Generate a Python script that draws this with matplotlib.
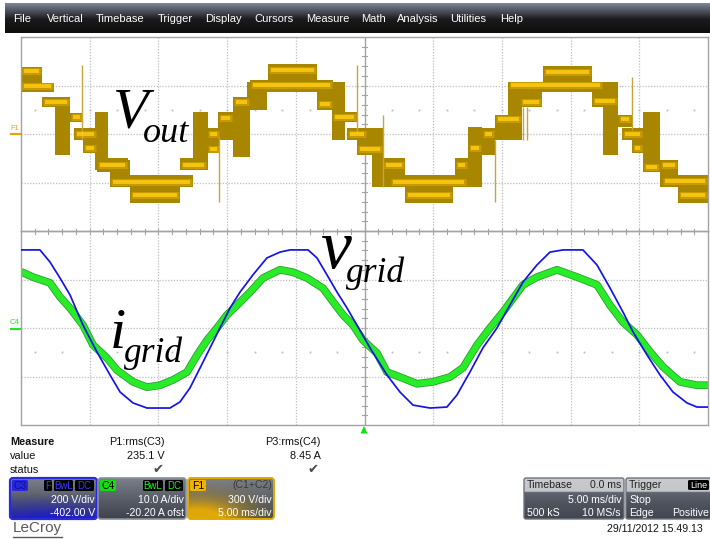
import numpy as np
import matplotlib
matplotlib.use("Agg")
import matplotlib.pyplot as plt
from matplotlib.patches import FancyBboxPatch, Polygon
import matplotlib.patheffects as pe

W, H = 710, 539

# ---- acquisition settings -------------------------------------------------
ms_per_div = 5.0
f1_v_per_div = 300.0
c3_v_per_div = 200.0
c4_a_per_div = 10.0

# ---- C3: grid voltage (ms, V) --------------------------------------------
t_vgrid = [0, 1.38, 2.11, 2.84, 3.57, 4.51, 5.53, 6.48, 7.21, 8.15,
           9.17, 10.84, 11.57, 12.30, 13.03, 13.76, 14.48, 15.21, 15.94, 16.88,
           17.90, 18.85, 19.58, 20.89, 21.54, 22.27, 23.0, 23.73, 24.45, 25.40,
           26.64, 27.58, 28.53, 29.77, 31.0, 31.73, 32.68, 33.62, 34.64, 35.59,
           36.54, 37.55, 38.5, 39.45, 40.9, 41.92, 42.87, 43.81, 44.54, 45.56,
           46.51, 47.45, 48.47, 49.2, 50]
v_grid = [322, 322, 272, 206, 136, 12, -99, -194, -264, -309,
          -330, -330, -305, -247, -165, -82, 0, 82, 148, 219,
          289, 313, 322, 322, 289, 219, 148, 82, 12, -82,
          -194, -264, -318, -330, -326, -276, -181, -82, 0, 95,
          190, 260, 313, 322, 322, 260, 165, 66, -16, -111,
          -194, -264, -309, -326, -326]

# ---- C4: grid current (ms, A) --------------------------------------------
t_igrid = [0, 0.87, 2.11, 2.84, 3.57, 4.51, 5.24, 6.26, 6.99, 8.15,
           9.17, 10.12, 11.06, 12.08, 12.81, 13.54, 14.26, 14.99, 15.72, 16.67,
           17.61, 18.85, 19.80, 20.82, 21.98, 22.71, 23.44, 24.16, 24.89, 25.91,
           26.64, 27.58, 28.82, 29.99, 31.22, 32.17, 33.19, 34.13, 35.08, 36.54,
           37.55, 39.01, 40.47, 41.92, 42.87, 43.81, 44.83, 45.78, 46.72, 47.96,
           49.2, 50]
i_grid = [11.6, 10.5, 9.3, 6.4, 4.1, 0.6, -3.5, -6.2, -8.7, -11.1,
          -12.2, -11.8, -10.7, -9.1, -5.6, -2.5, 0, 2.7, 4.7, 7.4,
          10.3, 12.0, 11.5, 10.3, 8.2, 5.4, 2.7, 0.6, -2.5, -5.2,
          -9.1, -10.1, -11.5, -11.1, -10.1, -8.2, -3.5, 0, 3.3, 8.9,
          10.5, 12.0, 10.5, 8.9, 4.7, 1.2, -1.4, -4.9, -8.0, -11.1,
          -11.8, -11.8]

# ---- F1 = C1+C2: multilevel output, PWM bands between levels (ms, V) -----
band_t0 = [0, 0, 1.53, 2.47, 3.57, 3.85, 4.51, 5.39, 5.53, 6.48,
           6.48, 7.93, 11.57, 12.52, 13.54, 14.34, 15.43, 16.45, 17.98, 16.67,
           21.54, 22.63, 22.63, 23.73, 24.45, 25.55, 26.35, 26.86, 27.95, 31.59,
           32.53, 33.55, 34.5, 35.44, 35.44, 36.32, 37.99, 41.56, 42.36, 43.45,
           43.74, 44.47, 45.27, 46.51, 46.65, 47.82]
band_t1 = [1.53, 2.4, 3.57, 3.57, 4.51, 5.53, 5.53, 6.33, 7.79, 7.93,
           12.52, 11.57, 13.54, 13.61, 14.48, 15.43, 16.67, 17.9, 21.54, 22.71,
           22.71, 23.58, 24.45, 25.18, 26.35, 26.35, 27.95, 32.46, 31.44, 32.53,
           33.55, 34.5, 36.46, 36.46, 42.36, 37.92, 41.56, 43.45, 43.45, 44.47,
           45.27, 45.27, 46.51, 47.82, 50, 50]
band_lo = [260, 260, 167, -130, 74, -37, -118, -223, -235, -328,
           -328, -427, -223, -223, -118, -37, -142, 148, 260, 260,
           148, -37, 74, -37, -130, -328, -328, -328, -427, -328,
           -328, -130, -37, -37, 260, 167, 260, 167, -130, 43,
           -37, -118, -235, -328, -328, -427]
band_hi = [414, 315, 229, 229, 130, 37, 37, 136, -148, -161,
           -254, -254, -148, 136, 37, 136, 229, 322, 433, 334,
           315, 322, 136, 37, 37, 37, -148, -254, -254, -148,
           43, 37, 117, 322, 322, 322, 420, 322, 229, 117,
           37, 37, 136, -161, -254, -254]

# dominant switching level inside each band
lvl_t0 = [0, 0, 1.53, 3.57, 3.85, 4.51, 5.53, 6.48, 7.93, 11.57,
          13.54, 13.54, 14.34, 15.43, 16.67, 17.98, 21.54, 22.63, 23.73, 24.45,
          26.35, 26.86, 27.95, 31.59, 32.53, 33.55, 34.5, 35.44, 36.32, 37.99,
          41.56, 43.45, 43.74, 44.47, 45.27, 46.51, 46.65, 47.82]
lvl_t1 = [1.53, 2.4, 3.57, 4.51, 5.53, 5.53, 7.79, 12.52, 11.57, 13.54,
          14.48, 14.48, 15.43, 16.67, 22.71, 21.54, 22.71, 24.45, 25.18, 26.35,
          27.95, 32.46, 31.44, 32.53, 33.55, 34.5, 36.46, 42.36, 37.92, 41.56,
          43.45, 44.47, 45.27, 45.27, 46.51, 47.82, 50, 50]
lvl_v = [390, 300, 198, 105, 0, -87, -192, -297, -377, -192,
         -93, 0, 99, 198, 303, 396, 185, 105, 0, -93,
         -192, -297, -377, -192, -87, 0, 93, 303, 198, 384,
         204, 93, 0, -87, -204, -192, -290, -377]

# switching glitches
spike_t = [4.45, 14.41, 24.45, 26.35, 34.5, 36.55, 36.8, 44.5]
spike_lo = [-37, -421, 6, -328, -421, -37, -37, 25]
spike_hi = [427, -19, 427, 117, -37, 167, 167, 353]

menu_items = ["File", "Vertical", "Timebase", "Trigger", "Display", "Cursors",
              "Measure", "Math", "Analysis", "Utilities", "Help"]

# ---------------------------------------------------------------------------
fig = plt.figure(figsize=(W / 100, H / 100), dpi=100)
fig.patch.set_facecolor("white")

bg = fig.add_axes([0, 0, 1, 1], zorder=0)
bg.set_facecolor("white")


def px_axes(x0, y0, x1, y1, z):
    ax = fig.add_axes([x0 / W, 1 - y1 / H, (x1 - x0) / W, (y1 - y0) / H], zorder=z)
    return ax


GX0, GX1, GY0, GYM, GY1 = 21, 708, 37, 231, 425
ax_up = px_axes(GX0, GY0, GX1, GYM, 1)
ax_lo = px_axes(GX0, GYM, GX1, GY1, 1)
ax_v = ax_lo.twinx()

GRID_C = "#bdbdbd"
FRAME_C = "#a3a3a3"
n_div_x = 10
t_end = n_div_x * ms_per_div


def style_panel(ax, per_div):
    ax.set_xlim(0, t_end)
    ax.set_ylim(-2 * per_div, 2 * per_div)
    ax.patch.set_visible(False)
    ax.set_xticks([])
    ax.set_yticks([])
    for s in ax.spines.values():
        s.set_color(FRAME_C)
        s.set_linewidth(1.0)
    for k in range(1, n_div_x):
        if k == 5:
            ax.axvline(k * ms_per_div, color=FRAME_C, lw=1.0, zorder=0.5)
        else:
            ax.axvline(k * ms_per_div, color=GRID_C, lw=0.9, ls=(0, (1, 1.3)), zorder=0.5)
    for j in (-1, 0, 1):
        ax.axhline(j * per_div, color=GRID_C, lw=0.9, ls=(0, (1, 1.3)), zorder=0.5)


style_panel(ax_up, f1_v_per_div)
style_panel(ax_lo, c4_a_per_div)
ax_v.set_ylim(-2 * c3_v_per_div, 2 * c3_v_per_div)
ax_v.set_yticks([])
for s in ax_v.spines.values():
    s.set_visible(False)

# dotted marker rows
odd_ms = np.arange(1, t_end, 2)
ax_up.plot(odd_ms, np.full(odd_ms.shape, 0.5 * f1_v_per_div), ls="none",
           marker="s", ms=1.3, mfc=GRID_C, mec="none", zorder=0.5)
ax_lo.plot(odd_ms, np.full(odd_ms.shape, -0.5 * c4_a_per_div), ls="none",
           marker="s", ms=1.3, mfc=GRID_C, mec="none", zorder=0.5)

# ---- F1 trace ------------------------------------------------------------
t0 = np.array(band_t0); t1 = np.array(band_t1)
lo = np.array(band_lo); hi = np.array(band_hi)
ax_up.bar(t0, hi - lo, width=t1 - t0, bottom=lo, align="edge",
          color="#a88600", lw=0, zorder=2)
ax_up.vlines(spike_t, spike_lo, spike_hi, color="#c8a43c", lw=1.0, zorder=2)
ax_up.hlines(lvl_v, np.array(lvl_t0) + 0.1, np.array(lvl_t1) - 0.1,
             color="#ffc400", lw=5.0, alpha=0.35, zorder=3)
ax_up.hlines(lvl_v, np.array(lvl_t0) + 0.2, np.array(lvl_t1) - 0.2,
             color="#ffcc10", lw=2.8, alpha=0.85, zorder=3)

# ---- C4 and C3 traces ------------------------------------------------------
ax_lo.plot(t_igrid, i_grid, color="#28ec28", lw=4.4, solid_capstyle="butt",
           path_effects=[pe.Stroke(linewidth=5.6, foreground="#2f9e2f"), pe.Normal()],
           zorder=2)
ax_v.plot(t_vgrid, v_grid, color="#1414e6", lw=1.25, zorder=3)

# ---- background chrome ----------------------------------------------------


def vgrad(stops, n=80, m=1):
    pos = np.array([s[0] for s in stops])
    cols = np.array([s[1] for s in stops], float) / 255.0
    y = np.linspace(0, 1, n)
    img = np.stack([np.interp(y, pos, cols[:, c]) for c in range(3)], axis=-1)
    return np.repeat(img[:, None, :], m, axis=1)


def rbox(ax, x0, y0, x1, y1, r):
    return FancyBboxPatch((x0 + r, y0 + r), x1 - x0 - 2 * r, y1 - y0 - 2 * r,
                          boxstyle=f"round,pad={r}", transform=ax.transData)


def panel(ax, x0, y0, x1, y1, img, edge, lw=1.3, r=3, z=2):
    clip = rbox(ax, x0, y0, x1, y1, r)
    clip.set_facecolor("none"); clip.set_edgecolor("none")
    ax.add_patch(clip)
    im = ax.imshow(img, extent=(x0, x1, y1, y0), origin="upper", aspect="auto",
                   interpolation="bilinear", zorder=z)
    im.set_clip_path(clip)
    frame = rbox(ax, x0, y0, x1, y1, r)
    frame.set_facecolor("none"); frame.set_edgecolor(edge); frame.set_linewidth(lw)
    frame.set_zorder(z + 1)
    ax.add_patch(frame)


def tag(ax, x0, y0, x1, y1, fc, text, tc, fs=7.0, z=5):
    p = rbox(ax, x0, y0, x1, y1, 1.5)
    p.set_facecolor(fc); p.set_edgecolor("none"); p.set_zorder(z)
    ax.add_patch(p)
    ax.text((x0 + x1) / 2, (y0 + y1) / 2 + 0.5, text, color=tc, fontsize=fs,
            ha="center", va="center", family="Liberation Sans", zorder=z + 1)


SANS = "Liberation Sans"

# menu bar
bar = vgrad([(0, (128, 134, 150)), (0.3, (70, 74, 84)), (0.55, (26, 26, 28)), (1, (14, 14, 14))])
bg.imshow(bar, extent=(5, 710, 33, 3), origin="upper", aspect="auto", zorder=1)
menu_x = [13, 47, 96, 158, 205, 254, 306, 361, 397, 450, 500]
for name, x in zip(menu_items, menu_x):
    bg.text(x, 19, name, color="white", fontsize=8, family=SANS, va="center", zorder=2)

# center graticule ticks
for k in range(1, 50):
    x = GX0 + k * (GX1 - GX0) / 50
    bg.plot([x, x], [GYM - 2.5, GYM + 2.5], color=FRAME_C, lw=0.8, zorder=1)
for k in range(1, 40):
    y = GY0 + k * (GY1 - GY0) / 40
    bg.plot([361.5, 367.0], [y, y], color=FRAME_C, lw=0.8, zorder=1)

# measurement table
fs_m = 7.8
bg.text(10, 442, "Measure", fontsize=fs_m, family=SANS, weight="bold", va="center", color="#111")
bg.text(10, 456, "value", fontsize=fs_m, family=SANS, va="center", color="#111")
bg.text(10, 470, "status", fontsize=fs_m, family=SANS, va="center", color="#111")
bg.text(165, 442, "P1:rms(C3)", fontsize=fs_m, family=SANS, va="center", ha="right", color="#111")
bg.text(165, 456, "235.1 V", fontsize=fs_m, family=SANS, va="center", ha="right", color="#111")
bg.text(321, 442, "P3:rms(C4)", fontsize=fs_m, family=SANS, va="center", ha="right", color="#111")
bg.text(321, 456, "8.45 A", fontsize=fs_m, family=SANS, va="center", ha="right", color="#111")
for xc in (158, 313):
    bg.text(xc, 470, "\u2714", fontsize=9.5, family="DejaVu Sans", va="center", ha="center", color="#4a4a4a")

# channel descriptor boxes
BY0, BY1 = 478, 519
gray_stops = [(0, (122, 127, 138)), (0.45, (92, 97, 108)), (1, (62, 66, 76))]

n, m = 60, 90
yy, xx = np.mgrid[0:1:n * 1j, 0:1:m * 1j]
base = vgrad(gray_stops, n=n, m=m)

w_blue = np.clip((yy - 0.35) / 0.65, 0, 1) ** 1.3 * (1 - 0.45 * np.abs(xx - 0.45))
blue = np.array([25, 25, 215]) / 255.0
img_c3 = base * (1 - w_blue[..., None]) + blue * w_blue[..., None]
panel(bg, 10, BY0, 97, BY1, img_c3, "#2a2ad8", lw=1.6)

panel(bg, 98, BY0, 186, BY1, base, "#8a8f98", lw=1.2)

w_gold = np.exp(-(((xx - 0.12) / 0.55) ** 2 + ((yy - 1.05) / 0.55) ** 2))
w_gold = np.clip(w_gold * 1.3, 0, 1)
gold = np.array([222, 168, 10]) / 255.0
img_f1 = base * (1 - w_gold[..., None]) + gold * w_gold[..., None]
panel(bg, 188, BY0, 274, BY1, img_f1, "#e3a800", lw=1.4)

tag(bg, 12, 480, 28, 491, "#2626e0", "C3", "#12127a", fs=7.5)
tag(bg, 44, 480, 52, 491, "black", "F", "#3a3aff")
tag(bg, 54, 480, 73, 491, "black", "BwL", "#3a3aff")
tag(bg, 75, 480, 94, 491, "black", "DC", "#3a3aff")
tag(bg, 100, 480, 116, 491, "#10e010", "C4", "black", fs=7.5)
tag(bg, 143, 480, 163, 491, "black", "BwL", "#20f020")
tag(bg, 165, 480, 183, 491, "black", "DC", "#20f020")
tag(bg, 190, 480, 206, 491, "#f0b400", "F1", "black", fs=7.5)
bg.text(272, 485, "(C1+C2)", fontsize=7.6, family=SANS, ha="right", va="center", color="#3a3a3a", zorder=6)

fs_b = 7.6
for x, l1, l2 in [(95, "200 V/div", "-402.00 V"),
                  (184, "10.0 A/div", "-20.20 A ofst"),
                  (272, "300 V/div", "5.00 ms/div")]:
    bg.text(x, 500, l1, fontsize=fs_b, family=SANS, ha="right", va="center", color="white", zorder=6)
    bg.text(x, 512.5, l2, fontsize=fs_b, family=SANS, ha="right", va="center", color="white", zorder=6)

# timebase / trigger boxes
dark_stops = [(0, (200, 202, 206)), (0.33, (196, 198, 202)), (0.34, (96, 100, 110)),
              (0.6, (80, 84, 94)), (1, (66, 70, 80))]
tb = vgrad(dark_stops, n=82)
panel(bg, 524, BY0, 624, BY1, tb, "#70747c", lw=1.0, r=2)
panel(bg, 626, BY0, 712, BY1, tb, "#70747c", lw=1.0, r=2)
bg.text(527, 485, "Timebase", fontsize=fs_b, family=SANS, va="center", color="#222", zorder=6)
bg.text(621, 485, "0.0 ms", fontsize=fs_b, family=SANS, va="center", ha="right", color="#222", zorder=6)
bg.text(621, 500, "5.00 ms/div", fontsize=fs_b, family=SANS, va="center", ha="right", color="white", zorder=6)
bg.text(527, 512.5, "500 kS", fontsize=fs_b, family=SANS, va="center", color="white", zorder=6)
bg.text(621, 512.5, "10 MS/s", fontsize=fs_b, family=SANS, va="center", ha="right", color="white", zorder=6)
bg.text(629, 485, "Trigger", fontsize=fs_b, family=SANS, va="center", color="#222", zorder=6)
tag(bg, 688, 480, 709, 490, "black", "Line", "white", fs=6.5, z=6)
bg.text(629, 500, "Stop", fontsize=fs_b, family=SANS, va="center", color="white", zorder=6)
bg.text(629, 512.5, "Edge", fontsize=fs_b, family=SANS, va="center", color="white", zorder=6)
bg.text(709, 512.5, "Positive", fontsize=fs_b, family=SANS, va="center", ha="right", color="white", zorder=6)

bg.text(703, 529, "29/11/2012 15.49.13", fontsize=7.6, family=SANS, va="center", ha="right", color="#111")
bg.text(13, 528, "LeCroy", fontsize=11, family=SANS, va="center", color="#5a5a5a")
bg.plot([13, 62], [537, 537], color="#5a5a5a", lw=1.0)

bg.set_xlim(0, W)
bg.set_ylim(H, 0)
bg.axis("off")

# ---- overlay: channel markers, trigger, labels ------------------------------
ov = fig.add_axes([0, 0, 1, 1], zorder=5)
ov.patch.set_visible(False)
ov.set_xlim(0, W)
ov.set_ylim(H, 0)
ov.axis("off")

ov.text(15, 128, "F1", fontsize=5.2, family=SANS, color="#e0a800", ha="center", va="center")
ov.plot([10.5, 20], [133.5, 133.5], color="#e0a800", lw=1.6)
ov.text(15, 322, "C4", fontsize=5.6, family=SANS, color="#2ae02a", ha="center", va="center")
ov.plot([11, 20], [329, 329], color="#2ae02a", lw=1.6)
ov.add_patch(Polygon([[360.5, 433.5], [367.5, 433.5], [364, 426]], closed=True,
                     fc="#10e010", ec="none"))

SERIF = "Liberation Serif"
ov.text(113, 128, "V", fontsize=42, family=SERIF, style="italic", color="black", va="baseline")
ov.text(143, 142, "out", fontsize=26, family=SERIF, style="italic", color="black", va="baseline")
ov.text(320, 268, "v", fontsize=50, family=SERIF, style="italic", color="black", va="baseline")
ov.text(346, 282, "grid", fontsize=25.5, family=SERIF, style="italic", color="black", va="baseline")
ov.text(110, 348, "i", fontsize=42, family=SERIF, style="italic", color="black", va="baseline")
ov.text(124, 362, "grid", fontsize=25.5, family=SERIF, style="italic", color="black", va="baseline")

fig.savefig("out.png", dpi=100)
